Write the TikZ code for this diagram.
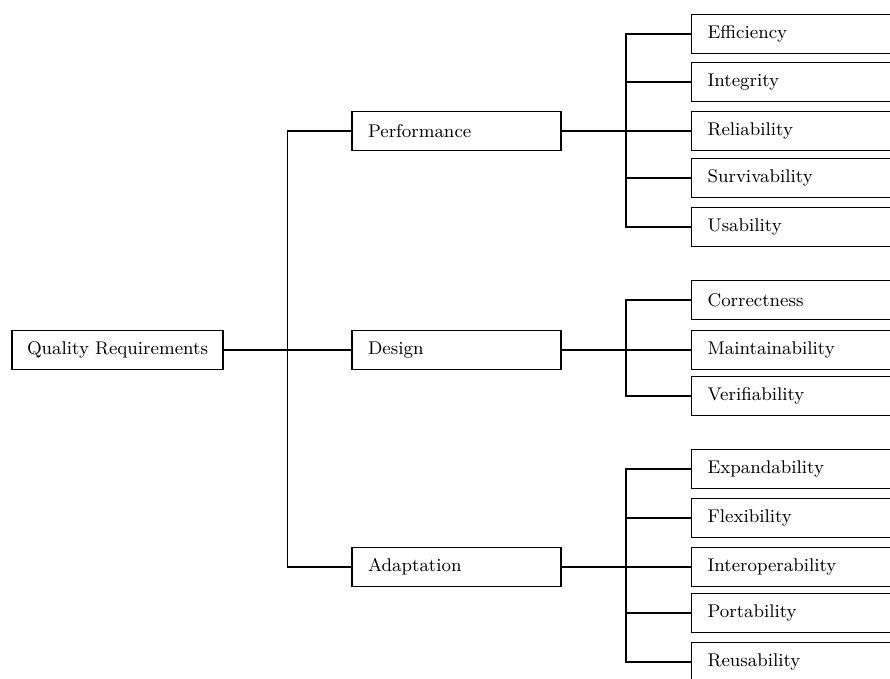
\documentclass[tikz,border=0pt]{standalone}
\usetikzlibrary{positioning,calc}

\tikzset{
  qbox/.style={draw, rectangle, minimum height=19.5pt, inner xsep=8pt,
    text width=#1, align=left, font=\fontsize{9.2}{11}\selectfont},
}

\begin{document}
\begin{tikzpicture}[x=0.5pt,y=-0.5pt,line width=0.6pt]
    \useasboundingbox (0,0) rectangle (890,679);
    \clip (0,0) rectangle (890,679);
    % root and first level
    \node[qbox=97.5pt,inner xsep=4pt,align=center] (qr) at (117.5,350) {Quality Requirements};
    \node[qbox=88.5pt] (perf) at (456.5,131) {Performance};
    \node[qbox=88.5pt] (design) at (456.5,350) {Design};
    \node[qbox=88.5pt] (adapt) at (456.5,567) {Adaptation};
    \draw (qr.east) -- (design.west);
    \draw (perf.west) -- ++(-64,0) |- (adapt.west);
    % performance
    \node[qbox=114pt,anchor=west] (eff) at (691,34) {Efficiency};
    \node[qbox=114pt,anchor=west] (integ) at (691,82) {Integrity};
    \node[qbox=114pt,anchor=west] (rel) at (691,131) {Reliability};
    \node[qbox=114pt,anchor=west] (surv) at (691,178) {Survivability};
    \node[qbox=114pt,anchor=west] (usab) at (691,227) {Usability};
    \draw (perf.east) -- (rel.west);
    \draw (eff.west) -- ++(-65,0) |- (usab.west);
    \foreach \n in {integ,surv} \draw (\n.west) -- ++(-65,0);
    % design
    \node[qbox=114pt,anchor=west] (corr) at (691,300) {Correctness};
    \node[qbox=114pt,anchor=west] (maint) at (691,350) {Maintainability};
    \node[qbox=114pt,anchor=west] (verif) at (691,396) {Verifiability};
    \draw (design.east) -- (maint.west);
    \draw (corr.west) -- ++(-65,0) |- (verif.west);
    % adaptation
    \node[qbox=114pt,anchor=west] (expand) at (691,469) {Expandability};
    \node[qbox=114pt,anchor=west] (flex) at (691,518) {Flexibility};
    \node[qbox=114pt,anchor=west] (inter) at (691,567) {Interoperability};
    \node[qbox=114pt,anchor=west] (port) at (691,613) {Portability};
    \node[qbox=114pt,anchor=west] (reuse) at (691,662) {Reusability};
    \draw (adapt.east) -- (inter.west);
    \draw (expand.west) -- ++(-65,0) |- (reuse.west);
    \foreach \n in {flex,port} \draw (\n.west) -- ++(-65,0);
\end{tikzpicture}
\end{document}
